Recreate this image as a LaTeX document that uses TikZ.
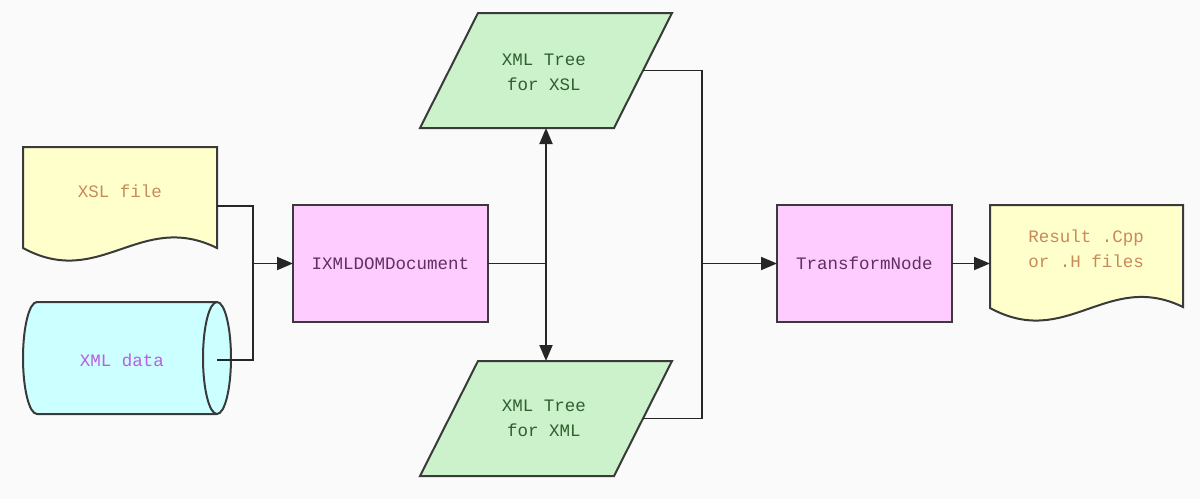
\documentclass[tikz,border=0pt]{standalone}
\usepackage{fontspec}
\setmainfont{Liberation Mono}
\usetikzlibrary{arrows.meta,calc}
\definecolor{yel}{HTML}{FFFFCC}
\definecolor{cya}{HTML}{CCFFFF}
\definecolor{pnk}{HTML}{FFCCFF}
\definecolor{grn}{HTML}{CCF2CC}
\definecolor{edge}{HTML}{3A3A3A}
\definecolor{txtyel}{HTML}{C88A5A}
\definecolor{txtcya}{HTML}{B860E0}
\definecolor{txtpnk}{HTML}{603060}
\definecolor{txtgrn}{HTML}{2F5F2F}
\tikzset{
  shp/.style={draw=edge,line width=2pt,line join=miter},
  hold/.style={draw=none,inner sep=0pt,outer sep=0pt,align=center,font=\fontsize{17.5}{25}\selectfont},
  procbox/.style={hold,shp,fill=pnk,text=txtpnk},
  conn/.style={draw=black!85,line width=1.9pt},
  arr/.style={conn,-{Triangle[length=16pt,width=13pt]}},
  darr/.style={conn,{Triangle[length=16pt,width=13pt]}-{Triangle[length=16pt,width=13pt]}}
}
\begin{document}
\begin{tikzpicture}[x=1pt,y=-1pt]
\fill[white!98!black] (0,0) rectangle (1200,499);
\useasboundingbox (0,0) rectangle (1200,499);

% XSL file (document shape)
\node[hold,minimum width=194pt,minimum height=101pt] (xsl) at (120,197.5) {};
\draw[shp,fill=yel] (23,147) -- (217,147) -- (217,248) .. controls (140,210) and (100,290) .. (23,248) -- cycle;
\node[hold,text=txtyel] (xsltxt) at (120,191) {XSL file};

% XML data (cylinder)
\node[hold,minimum width=194pt,minimum height=112pt] (xd) at (127,358) {};
\draw[shp,fill=cya] (37,302) -- (217,302) arc[start angle=-90,end angle=90,x radius=14,y radius=56] -- (37,414) arc[start angle=90,end angle=270,x radius=14,y radius=56] -- cycle;
\draw[shp] (217,302) arc[start angle=270,end angle=90,x radius=14,y radius=56];
\node[hold,text=txtcya] (xdtxt) at (122,360) {XML data};
\coordinate (xdc) at (217,360);

% IXMLDOMDocument
\node[procbox,minimum width=195pt,minimum height=117pt] (ix) at (390.5,263.5) {IXMLDOMDocument};

% XML Tree for XSL (parallelogram)
\node[hold,minimum width=194pt,minimum height=115pt] (tx) at (546,70.5) {};
\draw[shp,fill=grn] ($(tx.north west)+(29,0)$) -- ($(tx.north east)+(29,0)$) -- ($(tx.south east)+(-29,0)$) -- ($(tx.south west)+(-29,0)$) -- cycle;
\node[hold,text=txtgrn] (txtxt) at (544,72) {XML Tree\\for XSL};

% XML Tree for XML (parallelogram)
\node[hold,minimum width=194pt,minimum height=115pt] (bx) at (546,418.5) {};
\draw[shp,fill=grn] ($(bx.north west)+(29,0)$) -- ($(bx.north east)+(29,0)$) -- ($(bx.south east)+(-29,0)$) -- ($(bx.south west)+(-29,0)$) -- cycle;
\node[hold,text=txtgrn] (bxtxt) at (544,418) {XML Tree\\for XML};

% TransformNode
\node[procbox,minimum width=175pt,minimum height=117pt] (tn) at (864.5,263.5) {TransformNode};

% Result document
\node[hold,minimum width=193pt,minimum height=103pt] (res) at (1086.5,256.5) {};
\draw[shp,fill=yel] (990,205) -- (1183,205) -- (1183,307) .. controls (1107,270) and (1067,350) .. (990,308) -- cycle;
\node[hold,text=txtyel] (restxt) at (1086,249) {Result .Cpp\\or .H files};

% connectors
\coordinate (j1) at (253,263.5);
\coordinate (j2) at (702,263.5);
\draw[conn] ([yshift=-8.5pt]xsl.east) -| (j1);
\draw[conn] (xdc) -| (j1);
\draw[arr] (j1) -- (ix.west);
\draw[conn] (ix.east) -- (ix.east -| tx.south);
\draw[darr] (tx.south) -- (bx.north);
\draw[conn] (tx.east) -| (j2);
\draw[conn] (bx.east) -| (j2);
\draw[arr] (j2) -- (tn.west);
\draw[arr] (tn.east) -- (tn.east -| res.west);
\end{tikzpicture}
\end{document}
